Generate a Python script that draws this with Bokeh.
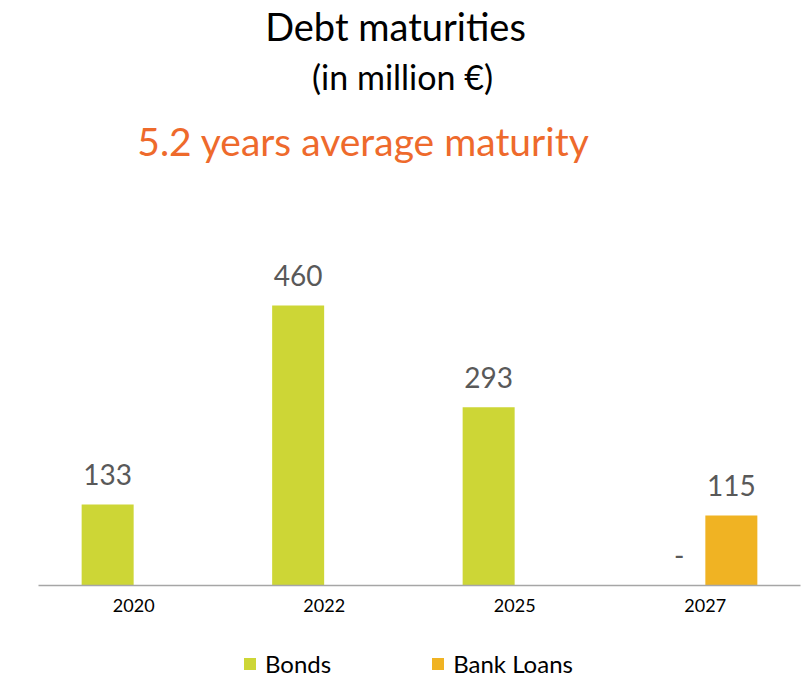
from bokeh.plotting import figure
from bokeh.layouts import column
from bokeh.models import ColumnDataSource, FactorRange, Range1d, Label, Legend, LegendItem
from bokeh.transform import dodge
from bokeh.core.properties import value
from bokeh.embed import file_html
from bokeh.resources import INLINE

years = ["2020", "2022", "2025", "2027"]
bonds = [133, 460, 293, 0]
bank_loans = [0, 0, 0, 115]
bond_labels = ["133", "460", "293", "-"]
loan_labels = ["", "", "", "115"]
series_names = ["Bonds", "Bank Loans"]

title = "Debt maturities"
subtitle = "(in million €)"
highlight = "5.2 years average maturity"

GREEN = "#CDD636"
GOLD = "#F0B323"
ORANGE = "#EE6A2C"
FONT = "Lato"

src = ColumnDataSource(dict(years=years, bonds=bonds, loans=bank_loans,
                            bl=bond_labels, ll=loan_labels))

p = figure(width=805, height=630, x_range=FactorRange(*years), y_range=Range1d(0, 961),
           output_backend="svg", toolbar_location=None,
           min_border_left=38, min_border_right=5, min_border_top=0, min_border_bottom=45)
p.outline_line_color = None
p.grid.grid_line_color = None
p.yaxis.visible = False
p.background_fill_color = "white"
p.border_fill_color = "white"

p.vbar(x=dodge("years", -0.137, range=p.x_range), top="bonds", width=0.273,
       source=src, fill_color=GREEN, line_color=None)
p.vbar(x=dodge("years", 0.137, range=p.x_range), top="loans", width=0.273,
       source=src, fill_color=GOLD, line_color=None)

for xoff, yf, tf in [(-0.137, "bonds", "bl"), (0.137, "loans", "ll")]:
    p.text(x=dodge("years", xoff, range=p.x_range), y=yf, text=tf, source=src,
           y_offset=-30, text_align="center", text_baseline="middle",
           text_font=value(FONT), text_font_size="28px", text_color="#595959")

ax = p.xaxis[0]
ax.axis_line_color = "#A6A6A6"
ax.axis_line_width = 1.5
ax.major_tick_line_color = None
ax.minor_tick_line_color = None
ax.major_label_text_font = FONT
ax.major_label_text_font_size = "18px"
ax.major_label_text_color = "#000000"
ax.major_label_standoff = 7

for txt, sx, sy, size, color in [(title, 357, 560, "38px", "#000000"),
                                 (subtitle, 364, 509, "34px", "#000000"),
                                 (highlight, 325, 445, "39px", ORANGE)]:
    p.add_layout(Label(x=sx, y=sy, x_units="screen", y_units="screen", text=txt,
                       text_align="center", text_baseline="middle",
                       text_font=FONT, text_font_size=size, text_color=color))

# legend strip below the chart (swatch renderers are zero-height, so invisible)
lg = figure(width=805, height=51, x_range=Range1d(0, 1), y_range=Range1d(0, 1),
            output_backend="svg", toolbar_location=None,
            min_border_left=0, min_border_right=0, min_border_top=0, min_border_bottom=0)
lg.axis.visible = False
lg.grid.grid_line_color = None
lg.outline_line_color = None
lg.background_fill_color = "white"
lg.border_fill_color = "white"
sw_b = lg.vbar(x=[0.5], top=[0], bottom=[0], width=0.0, fill_color=GREEN, line_color=None)
sw_l = lg.vbar(x=[0.5], top=[0], bottom=[0], width=0.0, fill_color=GOLD, line_color=None)
legend = Legend(items=[LegendItem(label=series_names[0], renderers=[sw_b]),
                       LegendItem(label=series_names[1], renderers=[sw_l])],
                orientation="horizontal", location=(204, 3),
                glyph_width=15, glyph_height=15, label_standoff=8, spacing=99,
                label_text_font=FONT, label_text_font_size="24px",
                label_text_color="#000000", border_line_color=None,
                background_fill_alpha=0, padding=0, margin=0)
lg.add_layout(legend, "center")

layout = column(p, lg, spacing=0)
open("out.html", "w").write(file_html(layout, INLINE))
